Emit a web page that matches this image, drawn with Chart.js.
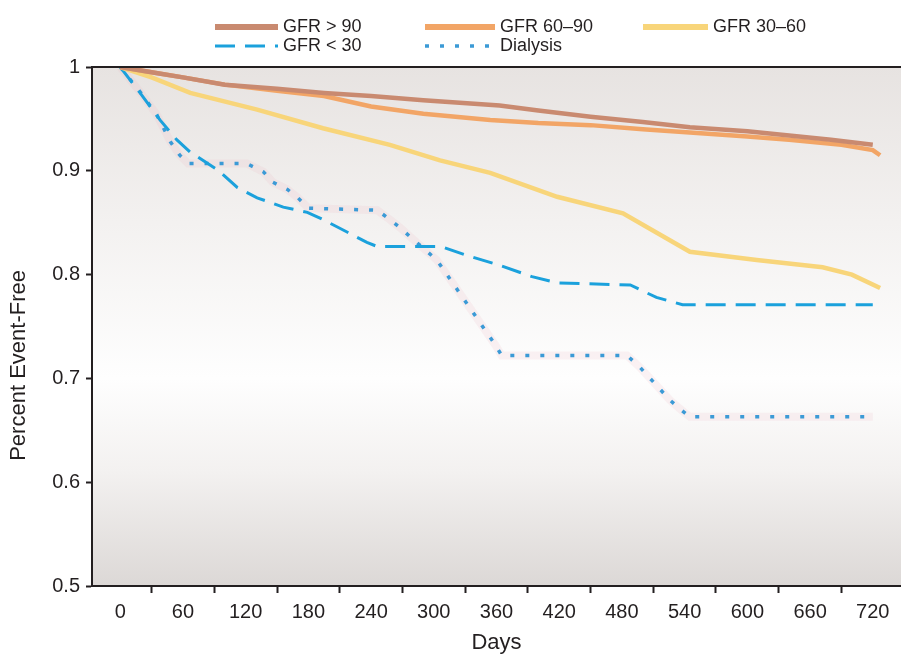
<!DOCTYPE html>
<html>
<head>
<meta charset="utf-8">
<title>Percent Event-Free by GFR</title>
<script src="https://cdn.jsdelivr.net/npm/chart.js@4.4.1/dist/chart.umd.min.js"></script>
<style>
    html, body { margin: 0; padding: 0; background: #fff; }
    #wrap { width: 901px; height: 657px; position: relative; }
</style>
</head>
<body>
<div id="wrap"><canvas id="kmChart"></canvas></div>
<script>
// --- данные ---
const seriesLabels = ['GFR > 90', 'GFR 60–90', 'GFR 30–60', 'GFR < 30', 'Dialysis'];

const gfr90Days = [0, 30, 60, 100, 150, 195, 240, 290, 363, 400, 450, 500, 545, 600, 640, 680, 720];
const gfr90Vals = [1, 0.995, 0.99, 0.983, 0.979, 0.975, 0.972, 0.968, 0.963, 0.958, 0.952, 0.947, 0.942, 0.938, 0.934, 0.930, 0.925];

const gfr6090Days = [0, 30, 60, 100, 150, 195, 240, 290, 354, 400, 450, 500, 545, 600, 640, 690, 720, 727];
const gfr6090Vals = [1, 0.995, 0.99, 0.983, 0.977, 0.972, 0.962, 0.955, 0.949, 0.946, 0.944, 0.940, 0.937, 0.933, 0.930, 0.925, 0.920, 0.915];

const gfr3060Days = [0, 30, 67, 131, 194, 258, 306, 354, 418, 481, 545, 609, 672, 700, 727];
const gfr3060Vals = [1, 0.99, 0.975, 0.959, 0.941, 0.925, 0.91, 0.898, 0.875, 0.859, 0.822, 0.814, 0.807, 0.800, 0.787];

const gfr30Days = [0, 19, 38, 54, 67, 93, 112, 131, 156, 179, 194, 217, 236, 246, 307, 330, 363, 394, 418, 488, 513, 538, 720];
const gfr30Vals = [1, 0.975, 0.949, 0.93, 0.918, 0.901, 0.884, 0.874, 0.865, 0.86, 0.853, 0.841, 0.831, 0.827, 0.827, 0.819, 0.809, 0.798, 0.792, 0.79, 0.778, 0.771, 0.771];

const dialysisDays = [0, 19, 35, 48, 57, 65, 121, 137, 146, 160, 170, 180, 246, 258, 268, 279, 303, 344, 359, 365, 485, 497, 526, 535, 545, 720];
const dialysisVals = [1, 0.976, 0.954, 0.928, 0.915, 0.907, 0.907, 0.899, 0.889, 0.882, 0.874, 0.864, 0.862, 0.853, 0.845, 0.835, 0.814, 0.754, 0.732, 0.722, 0.722, 0.711, 0.679, 0.671, 0.663, 0.663];

const xLabelDays = [0, 60, 120, 180, 240, 300, 360, 420, 480, 540, 600, 660, 720];
const xMarkDays = [30, 90, 150, 210, 270, 330, 390, 450, 510, 570, 630, 690];
const yTickValues = [0.5, 0.6, 0.7, 0.8, 0.9, 1];
const yTickLabels = ['0.5', '0.6', '0.7', '0.8', '0.9', '1'];

const FONT = '"Liberation Sans", Arial, Helvetica, sans-serif';
const INK = '#231f20';

function pts(days, vals) {
    return days.map((d, i) => ({ x: d, y: vals[i] }));
}

// фон области графика
const plotBackground = {
    id: 'plotBackground',
    beforeDraw(chart) {
        const { ctx, chartArea: a } = chart;
        ctx.save();
        const g = ctx.createLinearGradient(0, a.top, 0, a.bottom);
        g.addColorStop(0, '#e7e3e1');
        g.addColorStop(0.3, '#f3f1f0');
        g.addColorStop(0.6, '#fefefe');
        g.addColorStop(0.78, '#f3f1f0');
        g.addColorStop(1, '#dcd8d6');
        ctx.fillStyle = g;
        ctx.fillRect(a.left, a.top, a.right - a.left, a.bottom - a.top);
        ctx.restore();
    },
    afterDraw(chart) {
        // верхняя рамка
        const { ctx, chartArea: a } = chart;
        ctx.save();
        ctx.strokeStyle = INK;
        ctx.lineWidth = 2;
        ctx.beginPath();
        ctx.moveTo(a.left - 1, a.top);
        ctx.lineTo(a.right, a.top);
        ctx.stroke();
        ctx.restore();
    }
};

// легенда в две строки
const gridLegend = {
    id: 'gridLegend',
    afterDraw(chart, args, opts) {
        const { ctx } = chart;
        const sets = chart.data.datasets.filter(ds => !ds.legendSkip);
        ctx.save();
        ctx.font = opts.fontSize + 'px ' + FONT;
        ctx.textBaseline = 'middle';
        ctx.fillStyle = INK;
        sets.forEach((ds, i) => {
            const s = opts.slots[i];
            if (!s) return;
            ctx.strokeStyle = ds.borderColor;
            ctx.lineWidth = ds.legendLineWidth || ds.borderWidth;
            ctx.setLineDash(ds.borderDash || []);
            ctx.beginPath();
            ctx.moveTo(s.x, s.y);
            ctx.lineTo(s.x + s.w, s.y);
            ctx.stroke();
            ctx.setLineDash([]);
            ctx.fillText(ds.label, s.x + s.w + 5, s.y);
        });
        ctx.restore();
    }
};

// подпись оси Y (смещена вниз, как в оригинале)
const yTitle = {
    id: 'yTitle',
    afterDraw(chart, args, opts) {
        const { ctx, chartArea: a } = chart;
        ctx.save();
        ctx.translate(opts.x, a.top + (a.bottom - a.top) * opts.pos);
        ctx.rotate(-Math.PI / 2);
        ctx.font = opts.fontSize + 'px ' + FONT;
        ctx.fillStyle = INK;
        ctx.textAlign = 'center';
        ctx.textBaseline = 'middle';
        ctx.fillText(opts.text, 0, 0);
        ctx.restore();
    }
};

const ctx = document.getElementById('kmChart');

new Chart(ctx, {
    type: 'line',
    data: {
        datasets: [
            {
                label: seriesLabels[0],
                data: pts(gfr90Days, gfr90Vals),
                borderColor: '#c98a70',
                borderWidth: 4.5,
                legendLineWidth: 6
            },
            {
                label: seriesLabels[1],
                data: pts(gfr6090Days, gfr6090Vals),
                borderColor: '#f2a566',
                borderWidth: 4.5,
                legendLineWidth: 6
            },
            {
                label: seriesLabels[2],
                data: pts(gfr3060Days, gfr3060Vals),
                borderColor: '#f8d57a',
                borderWidth: 4.5,
                legendLineWidth: 6
            },
            {
                label: seriesLabels[3],
                data: pts(gfr30Days, gfr30Vals),
                borderColor: '#1ba1dc',
                borderWidth: 3,
                borderDash: [20, 10]
            },
            {
                label: seriesLabels[4],
                data: pts(dialysisDays, dialysisVals),
                borderColor: '#3b9ad6',
                borderWidth: 3.5,
                borderDash: [4, 11]
            },
            {
                label: 'halo',
                legendSkip: true,
                order: 2,
                data: pts(dialysisDays, dialysisVals),
                borderColor: 'rgba(238,180,195,0.16)',
                borderWidth: 8
            }
        ]
    },
    options: {
        responsive: true,
        maintainAspectRatio: false,
        animation: false,
        devicePixelRatio: 1,
        layout: { padding: { top: 67, right: 0, left: 0, bottom: 0 } },
        elements: {
            point: { radius: 0 },
            line: { tension: 0, fill: false, borderCapStyle: 'butt' }
        },
        plugins: {
            legend: { display: false },
            tooltip: { enabled: false },
            gridLegend: {
                fontSize: 18,
                slots: [
                    { x: 215, y: 27, w: 63 },
                    { x: 425, y: 27, w: 70 },
                    { x: 643, y: 27, w: 65 },
                    { x: 215, y: 46, w: 63 },
                    { x: 425, y: 46, w: 70 }
                ]
            },
            yTitle: { text: 'Percent Event-Free', x: 19, pos: 0.575, fontSize: 22 }
        },
        scales: {
            x: {
                type: 'linear',
                position: 'bottom',
                min: -27,
                max: 747,
                afterBuildTicks: s => {
                    s.ticks = xLabelDays.concat(xMarkDays).sort((a, b) => a - b).map(v => ({ value: v }));
                },
                afterFit: s => { s.height = 71; },
                ticks: {
                    autoSkip: false,
                    maxRotation: 0,
                    minRotation: 0,
                    padding: 7,
                    color: INK,
                    font: { family: FONT, size: 20 },
                    callback: v => xLabelDays.includes(v) ? String(v) : ''
                },
                grid: {
                    drawOnChartArea: false,
                    drawTicks: true,
                    tickLength: 7,
                    tickWidth: 2,
                    tickColor: c => (c.tick && xLabelDays.includes(c.tick.value)) ? 'rgba(0,0,0,0)' : INK
                },
                border: { display: true, color: INK, width: 2 },
                title: {
                    display: true,
                    text: 'Days',
                    color: INK,
                    font: { family: FONT, size: 22 },
                    padding: { top: 0, bottom: 1 }
                }
            },
            y: {
                type: 'linear',
                position: 'left',
                min: 0.5,
                max: 1,
                afterBuildTicks: s => {
                    s.ticks = yTickValues.map(v => ({ value: v }));
                },
                afterFit: s => { s.width = 92; },
                ticks: {
                    padding: 6,
                    color: INK,
                    font: { family: FONT, size: 20 },
                    callback: (v, i) => yTickLabels[yTickValues.indexOf(v)]
                },
                grid: {
                    drawOnChartArea: false,
                    drawTicks: true,
                    tickLength: 6,
                    tickWidth: 2,
                    tickColor: INK
                },
                border: { display: true, color: INK, width: 2 }
            }
        }
    },
    plugins: [plotBackground, gridLegend, yTitle]
});
</script>
</body>
</html>
